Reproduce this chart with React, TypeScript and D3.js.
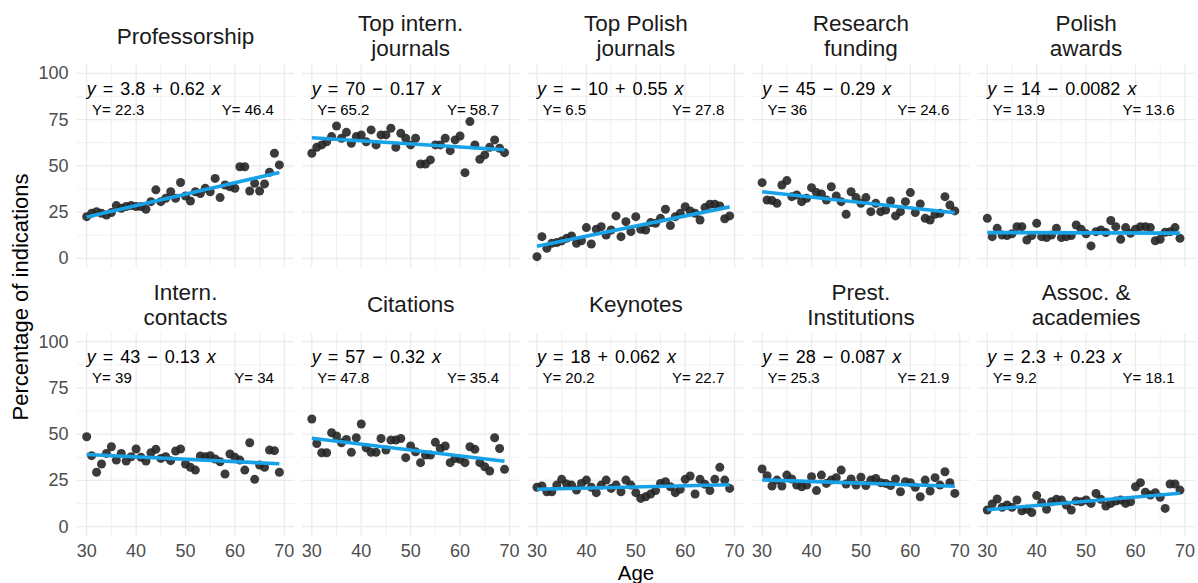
import React from "react";
import * as d3 from "d3";

const ages = [30,31,32,33,34,35,36,37,38,39,40,41,42,43,44,45,46,47,48,49,50,51,52,53,54,55,56,57,58,59,60,61,62,63,64,65,66,67,68,69];

const professorship = [22.5,24.3,25.2,24.3,23.4,24.7,28.5,27,28,28.5,28,28,26.5,30.6,37,30.6,32.4,36,32.4,41,33.7,31,36,35,37.8,36,43.2,32.8,39.6,38.7,37.8,49.5,49.5,36.4,40.5,36.4,40.2,46.5,56.8,50.5];
const topIntern = [56.8,60,61.3,63,65.8,71.5,64.9,68.1,62.2,65.8,66.7,63,69.4,61.3,66.7,66.7,70.3,60,67.6,64.9,61.3,64.9,51,51,53.2,61.3,61.3,64.9,58.2,64,66.1,46.3,73.9,61.3,53.5,55.9,60,64,59.5,57.1];
const topPolish = [0.9,11.7,5.4,8.1,8.5,9.4,10.8,12.1,8.1,9.5,16.6,7.7,15.7,17.1,12.6,15.3,22.9,11.7,19.8,14.4,22.5,15.7,15.3,19.3,18.9,21.6,26.5,17.7,22.5,24.3,27.9,25.6,24.3,20.7,27.4,29.2,29.2,28.3,21.4,22.9];
const researchFunding = [40.9,31.5,31.2,29.7,39.6,42,33.3,34.2,30.6,32.4,38.2,35.5,34.8,31.5,38.7,33.7,30.6,23.8,36,32.8,29.7,32.8,25.2,29.7,25.2,26.1,31,22.9,25.2,30.6,35.5,24.7,29.4,21.6,20.7,23.8,24.3,33.3,28.8,25.6];
const polishAwards = [21.6,11.7,16.2,12.6,12.3,13.2,17.1,17.1,9.9,12.3,18.9,11.7,11.2,12.6,16.2,11.2,11.7,12.3,18,15.7,13.2,6.7,14.4,15.3,13.9,20.4,17.1,10.3,16.6,13.5,15.7,17.1,17.1,16.6,9.5,10.3,14.1,14.4,16.6,10.8];
const internContacts = [48.6,38.4,29.4,33.9,39.6,43.2,36,39.6,35.5,37.8,42,37.5,35.5,40,41.8,36.9,37.8,35.7,40.9,42,33.9,32.1,30.6,38.2,37.8,38.4,36.6,35.1,28.5,39.3,37.5,36,30.6,45.4,25.6,33.3,32.1,41.4,41.1,29.4];
const citations = [58.2,45,40,40,50.8,49,45.4,47.2,40.2,48.1,55.5,42.7,40.2,40.2,47.7,41.4,46.8,46.8,47.7,37.3,43.6,40.5,34.6,38.7,38.7,45.6,42.3,43.6,34.6,36.9,36.4,34.6,43.2,41.8,34.6,32.4,30.1,48.1,42.3,31];
const keynotes = [21.3,22,18.9,18.9,22.5,25.6,23.1,22.5,19.8,23.4,25.2,21.3,18.4,22.5,25.2,20.7,22.5,18.9,25.2,22.5,18.4,15.3,16.2,17.7,19.5,23.4,24.3,21.6,18.4,20.2,25.6,27.4,17.7,25.6,22.9,19.5,25.6,32.1,25.2,20.7];
const prestInstitutions = [31.2,27.6,22,25.2,22,27.9,25.8,22.5,21.6,22.5,27,19.5,27.9,23.4,25.2,26.5,30.6,23.1,25.8,22.5,26.7,22.2,25.2,26.1,23.8,23.4,22.2,25.8,18.9,24.3,23.8,21.3,16.2,25.2,19.3,26.5,22.5,29.7,23.8,18];
const assocAcademies = [9,12.3,15,10.5,11.7,10.5,14.4,8.6,9.4,7.7,16.8,13,9.4,13.5,14.8,14.4,11.7,9,13.9,13.5,14.4,12.6,18,14.8,11.2,12.6,13.9,14.4,12.6,13.5,21.6,23.8,18.6,17.1,18.4,15.9,9.9,23.1,23.1,19.8];

const panelTitles = [
  ["Professorship"],
  ["Top intern.", "journals"],
  ["Top Polish", "journals"],
  ["Research", "funding"],
  ["Polish", "awards"],
  ["Intern.", "contacts"],
  ["Citations"],
  ["Keynotes"],
  ["Prest.", "Institutions"],
  ["Assoc. &", "academies"],
];
const equations = ["3.8 + 0.62", "70 \u2212 0.17", "\u2212 10 + 0.55", "45 \u2212 0.29", "14 \u2212 0.0082", "43 \u2212 0.13", "57 \u2212 0.32", "18 + 0.062", "28 \u2212 0.087", "2.3 + 0.23"];
const fitStart = [22.3, 65.2, 6.5, 36, 13.9, 39, 47.8, 20.2, 25.3, 9.2];
const fitEnd = [46.4, 58.7, 27.8, 24.6, 13.6, 34, 35.4, 22.7, 21.9, 18.1];
const fitStartLabel = ["22.3", "65.2", "6.5", "36", "13.9", "39", "47.8", "20.2", "25.3", "9.2"];
const fitEndLabel = ["46.4", "58.7", "27.8", "24.6", "13.6", "34", "35.4", "22.7", "21.9", "18.1"];
const series = [professorship, topIntern, topPolish, researchFunding, polishAwards, internContacts, citations, keynotes, prestInstitutions, assocAcademies];

const yTicks = [0, 25, 50, 75, 100];
const yMinor = [12.5, 37.5, 62.5, 87.5];
const xTicks = [30, 40, 50, 60, 70];
const xMinor = [35, 45, 55, 65];

const W = 1198, H = 583;
const FONT = "'Liberation Sans', Arial, Helvetica, sans-serif";
const panelLeft0 = 76.8, panelStep = 225.15, panelW = 217.4;
const panelTop0 = 64.8, rowStep = 268.4, panelH = 202;
const BLUE = "#17A2E8";

export default function App() {
  return (
    <svg width={W} height={H} style={{ position: "absolute", left: 0, top: 0, background: "#fff" }} fontFamily={FONT}>
      {series.map((vals, i) => {
        const col = i % 5, row = Math.floor(i / 5);
        const left = panelLeft0 + col * panelStep;
        const top = panelTop0 + row * rowStep;
        const x = d3.scaleLinear().domain([28, 72]).range([left, left + panelW]);
        const y = d3.scaleLinear().domain([-4.6, 104.6]).range([top + panelH, top]);
        const cx = left + panelW / 2;
        const titles = panelTitles[i];
        const stripCenter = top - 28.5;
        return (
          <g key={i}>
            {yMinor.map(t => <line key={"ym" + t} x1={left} x2={left + panelW} y1={y(t)} y2={y(t)} stroke="#EBEBEB" strokeWidth={0.7} />)}
            {xMinor.map(t => <line key={"xm" + t} x1={x(t)} x2={x(t)} y1={top} y2={top + panelH} stroke="#EBEBEB" strokeWidth={0.7} />)}
            {yTicks.map(t => <line key={"y" + t} x1={left} x2={left + panelW} y1={y(t)} y2={y(t)} stroke="#EBEBEB" strokeWidth={1.3} />)}
            {xTicks.map(t => <line key={"x" + t} x1={x(t)} x2={x(t)} y1={top} y2={top + panelH} stroke="#EBEBEB" strokeWidth={1.3} />)}
            {titles.map((t, k) => (
              <text key={"t" + k} x={cx} y={titles.length === 1 ? stripCenter : stripCenter + (k - 0.5) * 25} textAnchor="middle" dominantBaseline="central" fontSize={22.5} fill="#1A1A1A">{t}</text>
            ))}
            {col === 0 && yTicks.map(t => (
              <text key={"yl" + t} x={68.5} y={y(t)} textAnchor="end" dominantBaseline="central" fontSize={18} fill="#4D4D4D">{t}</text>
            ))}
            {row === 1 && xTicks.map(t => (
              <text key={"xl" + t} x={x(t)} y={550.5} textAnchor="middle" dominantBaseline="central" fontSize={18} fill="#4D4D4D">{t}</text>
            ))}
            {vals.map((v, k) => (
              <circle key={"p" + k} cx={x(ages[k])} cy={y(v)} r={4.5} fill="#262626" fillOpacity={0.9} />
            ))}
            <line x1={x(ages[0])} y1={y(fitStart[i])} x2={x(ages[ages.length - 1])} y2={y(fitEnd[i])} stroke={BLUE} strokeWidth={3.6} />
            <text x={x(30)} y={y(91.5)} dominantBaseline="central" fontSize={18} fill="#000" style={{ wordSpacing: "2px" }}>
              <tspan fontStyle="italic">y</tspan>{" = " + equations[i] + " "}<tspan fontStyle="italic">x</tspan>
            </text>
            <text x={x(31.1)} y={y(80.5)} dominantBaseline="central" fontSize={15} fill="#000">{"Y= " + fitStartLabel[i]}</text>
            <text x={x(67.9)} y={y(80.5)} textAnchor="end" dominantBaseline="central" fontSize={15} fill="#000">{"Y= " + fitEndLabel[i]}</text>
          </g>
        );
      })}
      <text x={636} y={572} textAnchor="middle" dominantBaseline="central" fontSize={20.5} fill="#000">Age</text>
      <text transform="translate(20,297) rotate(-90)" textAnchor="middle" dominantBaseline="central" fontSize={22} fill="#000">Percentage of indications</text>
    </svg>
  );
}
